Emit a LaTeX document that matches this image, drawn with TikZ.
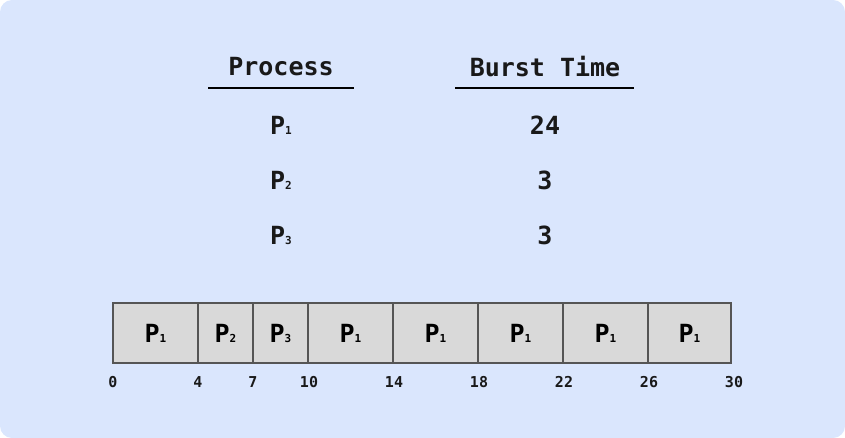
\documentclass[tikz,border=0pt]{standalone}
\usepackage{fontspec}
\setmonofont{DejaVu Sans Mono}
\definecolor{bgblue}{RGB}{218,230,253}
\definecolor{cellgray}{RGB}{217,217,217}
\definecolor{edgegray}{RGB}{85,85,85}
\newcommand{\Pn}[1]{P{\fontsize{11}{11}\selectfont #1}}
\tikzset{
  head/.style={font=\ttfamily\bfseries\fontsize{25}{25}\selectfont, text=black!90},
  entry/.style={font=\ttfamily\bfseries\fontsize{25}{25}\selectfont, text=black!90},
  cell/.style={draw=edgegray, line width=1.2pt, fill=cellgray, minimum height=60pt,
    inner sep=0pt, outer sep=0pt, anchor=north west,
    font=\ttfamily\bfseries\fontsize{25}{25}\selectfont},
  tick/.style={font=\ttfamily\bfseries\fontsize{15}{15}\selectfont, text=black!90}
}
\begin{document}
\begin{tikzpicture}[x=1pt,y=-1pt]
  \useasboundingbox (0,0) rectangle (845,438);
  \fill[bgblue, rounded corners=12pt] (0,0) rectangle (845,438);
  % table
  \node[head] (proc) at (281,67) {Process};
  \node[head] (burst) at (545,67) {Burst Time};
  \draw[line width=2pt] (208,88) -- (354,88);
  \draw[line width=2pt] (455,88) -- (634,88);
  \node[entry] (p1) at (281,125) {\Pn1};
  \node[entry] (p2) at (281,180) {\Pn2};
  \node[entry] (p3) at (281,235) {\Pn3};
  \node[entry] (b1) at (545,125) {24};
  \node[entry] (b2) at (545,180) {3};
  \node[entry] (b3) at (545,235) {3};
  % gantt chart
  \node[cell, minimum width=85pt] (g1) at (113,303) {\Pn1};
  \node[cell, minimum width=55pt] (g2) at (g1.north east) {\Pn2};
  \node[cell, minimum width=55pt] (g3) at (g2.north east) {\Pn3};
  \node[cell, minimum width=85pt] (g4) at (g3.north east) {\Pn1};
  \node[cell, minimum width=85pt] (g5) at (g4.north east) {\Pn1};
  \node[cell, minimum width=85pt] (g6) at (g5.north east) {\Pn1};
  \node[cell, minimum width=85pt] (g7) at (g6.north east) {\Pn1};
  \node[cell, minimum width=83pt] (g8) at (g7.north east) {\Pn1};
  % time marks
  \node[tick] (t0) at (113,382) {0};
  \node[tick] (t1) at (198,382) {4};
  \node[tick] (t2) at (253,382) {7};
  \node[tick] (t3) at (309,382) {10};
  \node[tick] (t4) at (394,382) {14};
  \node[tick] (t5) at (479,382) {18};
  \node[tick] (t6) at (564,382) {22};
  \node[tick] (t7) at (649,382) {26};
  \node[tick] (t8) at (734,382) {30};
\end{tikzpicture}
\end{document}
